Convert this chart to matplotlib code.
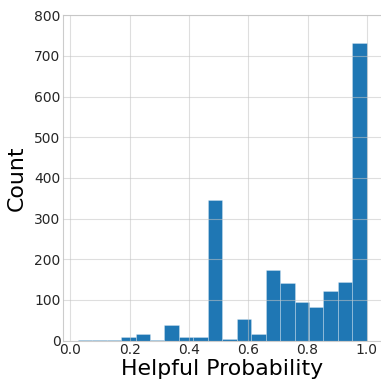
import matplotlib
matplotlib.use("Agg")
import matplotlib.pyplot as plt
import numpy as np

# histogram of helpful probability, 20 bins between 0.025 and 1.0
bin_lo = 0.025
bin_hi = 1.0
n_bins = 20
counts = [2, 1, 2, 8, 17, 2, 39, 9, 10, 345,
          5, 53, 16, 173, 142, 96, 82, 123, 145, 731]

edges = np.linspace(bin_lo, bin_hi, n_bins + 1)
centers = (edges[:-1] + edges[1:]) / 2

fig = plt.figure(figsize=(3.81, 3.81), dpi=100)
ax = fig.add_axes([0.166, 0.106, 0.835, 0.854])

ax.hist(centers, bins=edges, weights=counts, color="#1f77b4",
        edgecolor=(1, 1, 1, 0.3), linewidth=0.6, zorder=2)

ax.set_xlim(-0.024, 1.049)
ax.set_ylim(0, 800)
ax.set_xticks([0.0, 0.2, 0.4, 0.6, 0.8, 1.0])
ax.set_yticks(range(0, 801, 100))
ax.grid(True, color="#c4c4c4", alpha=0.55, linewidth=0.8, zorder=3)
ax.set_axisbelow(False)
for s in ax.spines.values():
    s.set_color("#cccccc")
    s.set_linewidth(0.8)
ax.spines["right"].set_visible(False)
ax.tick_params(length=0, labelsize=10, colors="#262626", pad=2)
ax.set_xlabel("Helpful Probability", fontsize=15.8, color="black", labelpad=1)
ax.set_ylabel("Count", fontsize=15.8, color="black", labelpad=5)

fig.savefig("out.png", dpi=100)
